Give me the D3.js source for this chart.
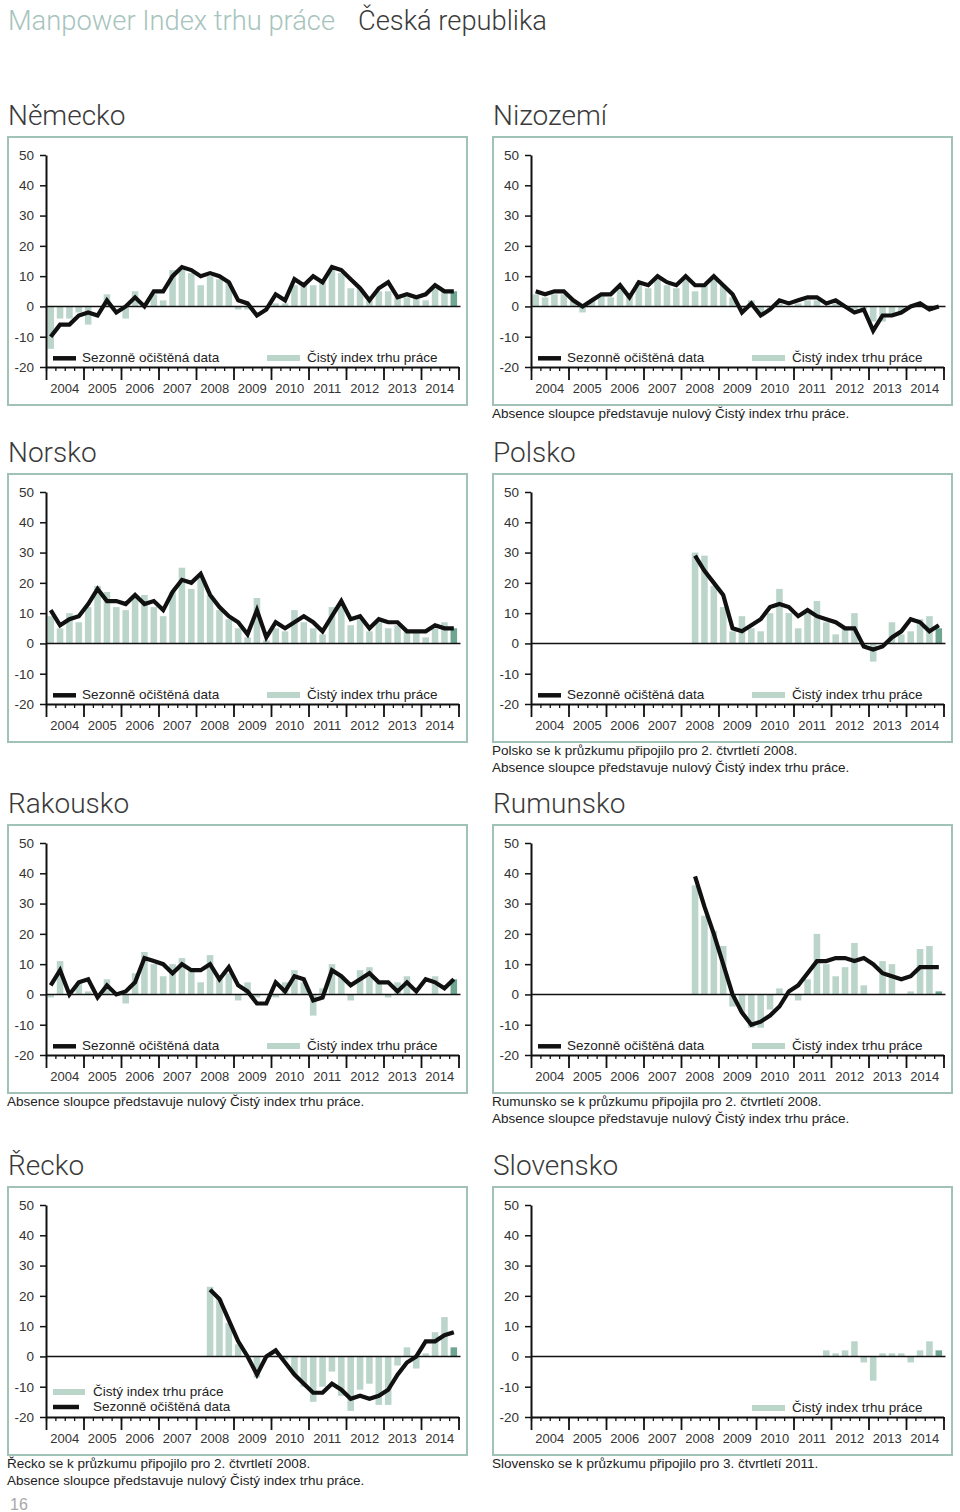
<!DOCTYPE html>
<html><head><meta charset="utf-8">
<script src="https://cdn.jsdelivr.net/npm/d3@7"></script>
<style>
body{margin:0;background:#fff;}
svg text{font-family:"Liberation Sans",Arial,Helvetica,sans-serif;}
.big{font-family:Roboto,"Liberation Sans",sans-serif !important;font-weight:300;}
</style></head><body>
<svg id="c" width="960" height="1512"></svg>
<script>
// ---------- data ----------
const years = [2004,2005,2006,2007,2008,2009,2010,2011,2012,2013,2014];
const quarters = years.flatMap(y => ["Q1","Q2","Q3","Q4"].map(q => y + " " + q));
const yTicks = [-20,-10,0,10,20,30,40,50];

const nemeckoBars = [-14,-4,-4,-2,-6,0,4,0,-4,5,0,4,2,12,13,11,7,10,9,8,-1,-1,0,0,1,1,7,7,7,8,12,11,6,6,2,5,5,3,3,3,2,6,5,5];
const nemeckoLine = [-10,-6,-6,-3,-2,-3,2,-2,0,3,0,5,5,10,13,12,10,11,10,8,2,1,-3,-1,4,2,9,7,10,8,13,12,9,6,2,6,8,3,4,3,4,7,5,5];

const nizozemiBars = [4,3,4,4,2,-2,2,4,3,6,4,8,6,9,7,6,9,5,7,10,7,3,-1,2,-2,-1,1,0,1,2,2,0,1,0,-1,-1,-5,-5,-3,-2,0,1,-1,0];
const nizozemiLine = [5,4,5,5,2,0,2,4,4,7,3,8,7,10,8,7,10,7,7,10,7,4,-2,1,-3,-1,2,1,2,3,3,1,2,0,-2,-1,-8,-3,-3,-2,0,1,-1,0];

const norskoBars = [9,5,10,7,12,19,17,12,11,16,16,12,9,17,25,18,22,16,11,8,5,2,15,1,5,4,11,7,5,3,12,13,6,8,4,7,5,6,4,4,2,5,7,5];
const norskoLine = [11,6,8,9,13,18,14,14,13,16,13,14,11,17,21,20,23,16,12,9,7,3,11,2,7,5,7,9,7,4,9,14,8,9,5,8,7,7,4,4,4,6,5,5];

// Polsko, Rumunsko, Řecko start in 2008 Q2 (quarter index 17)
const polskoStart = 17;
const polskoBars = [30,29,19,12,4,9,5,4,10,18,10,5,10,14,7,3,5,10,-1,-6,0,7,3,4,8,9,5];
const polskoLine = [29,24,20,16,5,4,6,8,12,13,12,9,11,9,8,7,5,5,-1,-2,-1,2,4,8,7,4,6];

const rakouskoBars = [-1,11,0,4,1,0,5,0,-3,7,14,10,6,10,12,8,4,13,5,7,-2,4,-1,0,-1,4,8,4,-7,2,10,6,-2,8,9,4,-1,4,6,0,0,6,0,5];
const rakouskoLine = [3,8,0,4,5,-1,3,0,1,4,12,11,10,7,10,8,8,10,5,9,3,1,-3,-3,4,1,6,5,-2,-1,8,6,3,5,7,4,4,1,4,1,5,4,2,5];

const rumunskoStart = 17;
const rumunskoBars = [36,26,21,16,-4,-6,-11,-11,-5,2,0,-2,5,20,10,6,9,17,3,0,11,10,0,1,15,16,1];
const rumunskoLine = [39,29,20,10,0,-6,-10,-9,-7,-4,1,3,7,11,11,12,12,11,12,10,7,6,5,6,9,9,9];

const reckoStart = 17;
const reckoBars = [23,19,11,4,0,-7,0,0,-1,-6,-10,-15,-10,-5,-13,-18,-11,-9,-16,-16,-3,3,-4,1,8,13,3];
const reckoLine = [22,19,12,5,0,-6,0,2,-2,-6,-9,-12,-12,-9,-11,-14,-13,-14,-13,-11,-6,-2,0,5,5,7,8];

const slovenskoStart = 31;
const slovenskoBars = [2,1,2,5,-2,-8,1,1,1,-2,2,5,2];

const legendLine = "Sezonně očištěná data";
const legendBar = "Čistý index trhu práce";
const noteAbsence = "Absence sloupce představuje nulový Čistý index trhu práce.";

// ---------- layout ----------
const panels = [
  {name:"Německo", col:0,row:0, bars:nemeckoBars, line:nemeckoLine, start:0, legend:"std", notes:[]},
  {name:"Nizozemí", col:1,row:0, bars:nizozemiBars, line:nizozemiLine, start:0, legend:"std", notes:[noteAbsence]},
  {name:"Norsko", col:0,row:1, bars:norskoBars, line:norskoLine, start:0, legend:"std", notes:[]},
  {name:"Polsko", col:1,row:1, bars:polskoBars, line:polskoLine, start:polskoStart, legend:"std",
    notes:["Polsko se k průzkumu připojilo pro 2. čtvrtletí 2008.", noteAbsence]},
  {name:"Rakousko", col:0,row:2, bars:rakouskoBars, line:rakouskoLine, start:0, legend:"std", notes:[noteAbsence]},
  {name:"Rumunsko", col:1,row:2, bars:rumunskoBars, line:rumunskoLine, start:rumunskoStart, legend:"std",
    notes:["Rumunsko se k průzkumu připojila pro 2. čtvrtletí 2008.", noteAbsence]},
  {name:"Řecko", col:0,row:3, bars:reckoBars, line:reckoLine, start:reckoStart, legend:"stack",
    notes:["Řecko se k průzkumu připojilo pro 2. čtvrtletí 2008.", noteAbsence]},
  {name:"Slovensko", col:1,row:3, bars:slovenskoBars, line:null, start:slovenskoStart, legend:"bar",
    notes:["Slovensko se k průzkumu připojilo pro 3. čtvrtletí 2011."]}
];

const rowTops = [137, 474, 825, 1187];
const colLefts = [8, 493];
const frameW = 459, frameH = 268;
const lightBar = "#bcd5cb", darkBar = "#6fa692", frameCol = "#a0c3b6";

const svg = d3.select("#c");

svg.append("text").attr("class","big").attr("x",8).attr("y",30).attr("font-size",27.3)
  .attr("fill","#a6c4bd").text("Manpower Index trhu práce");
svg.append("text").attr("class","big").attr("x",358).attr("y",30).attr("font-size",27.3)
  .attr("fill","#3a3a3a").text("Česká republika");
svg.append("text").attr("x",10).attr("y",1510).attr("font-size",16).attr("fill","#a8a8a8").text("16");

panels.forEach(p => {
  const fx = colLefts[p.col], fy = rowTops[p.row];
  const g = svg.append("g");
  g.append("text").attr("class","big").attr("x",fx).attr("y",fy-12).attr("font-size",28)
    .attr("fill","#3a3a3a").text(p.name);
  g.append("rect").attr("x",fx).attr("y",fy).attr("width",frameW).attr("height",frameH)
    .attr("fill","none").attr("stroke",frameCol).attr("stroke-width",2);

  const x0 = fx + 38, x1 = x0 + 412.5;
  const y = d3.scaleLinear().domain([-20,50]).range([fy+230, fy+18]);
  const xb = d3.scaleBand().domain(d3.range(quarters.length)).range([x0,x1]).paddingInner(0.3).paddingOuter(0.15);
  const xq = d3.scaleLinear().domain([0,quarters.length]).range([x0,x1]);
  const xy = d3.scaleBand().domain(years).range([x0,x1]);
  const bw = xb.bandwidth();

  const barData = p.bars.map((v,k) => ({i:p.start+k, v})).filter(d => d.v !== null && d.v !== 0);
  g.append("g").selectAll("rect").data(barData).join("rect")
    .attr("x", d => xb(d.i)).attr("width", bw)
    .attr("y", d => y(Math.max(0,d.v))).attr("height", d => Math.abs(y(d.v)-y(0)))
    .attr("fill", d => d.i === quarters.length-1 ? darkBar : lightBar);

  // zero line
  g.append("line").attr("x1",x0).attr("x2",x1+2).attr("y1",y(0)).attr("y2",y(0))
    .attr("stroke","#111").attr("stroke-width",1.6);

  // y axis
  const ya = g.append("g").attr("transform",`translate(${x0},0)`)
    .call(d3.axisLeft(y).tickValues(yTicks).tickSize(6).tickSizeOuter(0).tickPadding(6).tickFormat(d => String(d)));
  ya.select(".domain").attr("stroke","#111").attr("stroke-width",2);
  ya.selectAll(".tick line").attr("stroke","#111").attr("stroke-width",1.5);
  ya.selectAll(".tick text").attr("font-size",13.5).attr("fill","#333").attr("font-family","Liberation Sans, Arial, sans-serif");

  // x axis: minor (quarter) ticks
  const xa = g.append("g").attr("transform",`translate(0,${y(-20)})`)
    .call(d3.axisBottom(xq).tickValues(d3.range(0,quarters.length+1)).tickSize(4).tickSizeOuter(0).tickFormat(""));
  xa.select(".domain").attr("stroke","#111").attr("stroke-width",2);
  xa.selectAll(".tick line").attr("stroke","#111").attr("stroke-width",1.3);
  // major (year) ticks
  const xm = g.append("g").attr("transform",`translate(0,${y(-20)})`)
    .call(d3.axisBottom(xq).tickValues(d3.range(0,quarters.length+1,4)).tickSize(13).tickSizeOuter(0).tickFormat(""));
  xm.select(".domain").remove();
  xm.selectAll(".tick line").attr("stroke","#111").attr("stroke-width",1.8);
  // year labels
  const xl = g.append("g").attr("transform",`translate(0,${y(-20)})`)
    .call(d3.axisBottom(xy).tickSize(0).tickFormat(d => String(d)));
  xl.select(".domain").remove();
  xl.selectAll(".tick text").attr("y",26).attr("dy",0).attr("font-size",13).attr("fill","#333")
    .attr("font-family","Liberation Sans, Arial, sans-serif");

  // line
  if (p.line) {
    const lineData = p.line.map((v,k) => ({i:p.start+k, v})).filter(d => d.v !== null);
    g.append("path").datum(lineData)
      .attr("d", d3.line().x(d => xb(d.i)+bw/2).y(d => y(d.v)))
      .attr("fill","none").attr("stroke","#111").attr("stroke-width",4.2).attr("stroke-linejoin","miter");
  }

  // legend
  const yb = y(-20);
  const lg = g.append("g");
  if (p.legend === "std" || p.legend === "bar") {
    if (p.legend === "std") {
      lg.append("line").attr("x1",x0+7).attr("x2",x0+30).attr("y1",yb-8.7).attr("y2",yb-8.7)
        .attr("stroke","#111").attr("stroke-width",4.5);
      lg.append("text").attr("x",x0+36).attr("y",yb-5).attr("font-size",13.5).attr("fill","#222").text(legendLine);
    }
    lg.append("rect").attr("x",x0+221).attr("y",yb-12).attr("width",33).attr("height",6).attr("fill",lightBar);
    lg.append("text").attr("x",x0+261).attr("y",yb-5).attr("font-size",13.5).attr("fill","#222").text(legendBar);
  } else if (p.legend === "stack") {
    lg.append("rect").attr("x",x0+7).attr("y",yb-28).attr("width",32).attr("height",6).attr("fill",lightBar);
    lg.append("text").attr("x",x0+47).attr("y",yb-21).attr("font-size",13.5).attr("fill","#222").text(legendBar);
    lg.append("line").attr("x1",x0+7).attr("x2",x0+33).attr("y1",yb-10).attr("y2",yb-10)
      .attr("stroke","#111").attr("stroke-width",4.5);
    lg.append("text").attr("x",x0+47).attr("y",yb-6).attr("font-size",13.5).attr("fill","#222").text(legendLine);
  }

  // notes
  p.notes.forEach((t,k) => {
    g.append("text").attr("x",fx-1).attr("y",fy+frameH+12.5+k*17).attr("font-size",13.5).attr("fill","#222").text(t);
  });
});
</script>
</body></html>
